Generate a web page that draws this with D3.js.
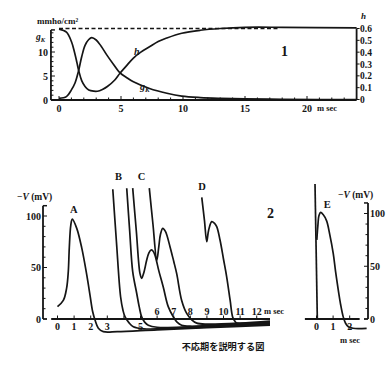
<!DOCTYPE html>
<html><head><meta charset="utf-8">
<script src="https://cdn.jsdelivr.net/npm/d3@7"></script>
<style>
body{margin:0;background:#fff}
svg{display:block}
text{font-family:"Liberation Serif","Times New Roman",serif;font-weight:bold;fill:#151515}
</style>
</head><body>
<svg id="c" width="392" height="365"></svg>
<script>
// ---------- Panel 1 data (g_K and h vs time, ms) ----------
const gTime  = [0, 0.6, 1.0, 1.3, 1.56, 1.83, 2.1, 2.4, 2.64, 3.0, 3.4, 3.85, 4.4, 4.9, 5.5, 6.0, 7.3, 8.7, 9.9, 11.4, 13, 15, 18, 21, 24];
const gValue = [0.35, 0.7, 2.1, 3.6, 5.9, 9.0, 11.4, 12.6, 13.0, 12.5, 11.2, 9.4, 7.4, 5.7, 4.6, 3.8, 2.4, 1.4, 0.8, 0.5, 0.35, 0.25, 0.15, 0.1, 0.1];
const hTime  = [0, 0.6, 1.0, 1.25, 1.45, 1.6, 1.83, 2.1, 2.4, 2.8, 3.1, 3.5, 3.9, 4.5, 4.9, 5.4, 6.0, 6.6, 7.3, 8.0, 8.7, 9.9, 11.4, 13, 15, 18, 24];
const hValue = [0.595, 0.57, 0.49, 0.40, 0.31, 0.24, 0.16, 0.11, 0.08, 0.07, 0.07, 0.085, 0.11, 0.165, 0.22, 0.28, 0.35, 0.40, 0.445, 0.49, 0.52, 0.56, 0.585, 0.6, 0.61, 0.61, 0.605];
const hRest = 0.6, hRestEnd = 17.8;
const topXTicks = [0, 5, 10, 15, 20];
const gTicks = [0, 5, 10];
const hTicks = [0, 0.1, 0.2, 0.3, 0.4, 0.5, 0.6];

// ---------- Panel 2 data (-V in mV vs time, ms) ----------
const aTime  = [0, 0.35, 0.55, 0.65, 0.71, 0.8, 0.89, 1.16, 1.46, 1.76, 1.96, 2.12, 2.26, 2.46, 2.76, 3.6, 6, 9, 12.8];
const aVolt  = [12, 18, 30, 46, 69, 91, 97, 88, 69, 43, 23, 7, -1, -9, -12.3, -12.3, -10.5, -8.5, -6];
const bTime  = [3.33, 3.55, 3.8, 3.95, 4.07, 4.3, 4.57, 5.2, 7, 10, 12.8];
const bVolt  = [126, 75, 21.6, 8, 2, -3.5, -7.5, -9.5, -9, -7, -5];
const b2Time = [4.17, 4.35, 4.53, 4.77, 4.92, 5.07, 5.25, 5.47, 6, 8, 10, 12.8];
const b2Volt = [127, 85, 46, 25, 12, 2, -3, -6, -8, -7.5, -6, -4.3];
const cTime  = [4.53, 4.75, 4.97, 5.07, 5.2, 5.37, 5.5, 5.63, 5.75, 5.87, 6.1, 6.37, 6.67, 6.98, 7.2, 7.48, 8, 10, 12.8];
const cVolt  = [127, 85, 44, 39.5, 45, 57, 64, 67, 66, 62, 47, 31, 12, 2, -3, -6, -7, -5.5, -3.3];
const c2Time = [5.53, 5.75, 5.98, 6.1, 6.2, 6.34, 6.5, 6.78, 7.0, 7.18, 7.48, 7.78, 8.1, 8.39, 9, 11, 12.8];
const c2Volt = [127, 92, 57, 70, 82, 88, 85, 70, 56, 44, 18, 5.5, -1, -4, -5, -4, -2];
const dTime  = [8.69, 8.85, 8.99, 9.1, 9.29, 9.45, 9.59, 9.79, 10.0, 10.19, 10.4, 10.55, 10.7, 10.8, 11.5, 12.8];
const dVolt  = [118, 96, 75, 86, 94.5, 93, 89.6, 76.7, 58, 41, 18, 2, -2.5, -4, -4.5, -3.5];
const xBelowTicks = [0, 1, 2, 3, 5];
const xAboveTicks = [6, 7, 8, 9, 10, 11, 12];
const vTicks = [0, 50, 100];

// ---------- Panel E data ----------
const eStimTime = [-0.09, 0.05];
const eStimVolt = [128, 0];
const eTime = [0.02, 0.08, 0.15, 0.25, 0.4, 0.61, 0.8, 1.01, 1.15, 1.31, 1.45, 1.61, 1.75, 1.92, 2.2, 3.02];
const eVolt = [75, 88, 98, 101, 99, 93, 80, 62, 45, 27.5, 14, 2, -4, -7.3, -8.8, -8.8];
const eXTicks = [0, 1, 2];

const traceLabels = [
  {text: "A", t: 0.98, v: 103},
  {text: "B", t: 3.67, v: 135},
  {text: "C", t: 5.07, v: 135},
  {text: "D", t: 8.7, v: 125}
];

// ---------- drawing ----------
const svg = d3.select("#c");
const ink = "#151515";
const zip = (xs, ys) => xs.map((x, i) => [x, ys[i]]);

// Panel 1 scales
const xT = d3.scaleLinear().domain([0, 24]).range([59, 356.6]);
const yG = d3.scaleLinear().domain([0, 10]).range([100, 52]);
const yH = d3.scaleLinear().domain([0, 0.6]).range([99.5, 28.5]);

const p1 = svg.append("g");
// x axis
p1.append("line").attr("x1", xT(-0.65)).attr("x2", xT(24)).attr("y1", yG(0)).attr("y2", yG(0))
  .attr("stroke", ink).attr("stroke-width", 1.8);
p1.selectAll(".xt").data(d3.range(0, 25)).join("line")
  .attr("x1", d => xT(d)).attr("x2", d => xT(d))
  .attr("y1", yG(0)).attr("y2", d => yG(0) - (d % 5 === 0 ? 4 : 2.5))
  .attr("stroke", ink).attr("stroke-width", 1);
p1.selectAll(".xl").data(topXTicks).join("text")
  .attr("x", d => xT(d)).attr("y", 112).attr("text-anchor", "middle")
  .attr("font-size", 10).text(d => d);
p1.append("text").attr("x", 317).attr("y", 111).attr("font-size", 8.5).text("m sec");

// left axis (g_K)
const lx = xT(-0.65);
p1.append("line").attr("x1", lx).attr("x2", lx).attr("y1", yG(0)).attr("y2", yG(14.6))
  .attr("stroke", ink).attr("stroke-width", 1.8);
p1.append("line").attr("x1", lx).attr("x2", lx + 4).attr("y1", yG(14.6)).attr("y2", yG(14.6))
  .attr("stroke", ink).attr("stroke-width", 1.5);
p1.selectAll(".gt").data(d3.range(0, 15)).join("line")
  .attr("x1", lx).attr("x2", d => lx + (d % 5 === 0 ? 4 : 2.5))
  .attr("y1", d => yG(d)).attr("y2", d => yG(d))
  .attr("stroke", ink).attr("stroke-width", 1);
p1.selectAll(".gl").data(gTicks).join("text")
  .attr("x", lx - 3).attr("y", d => yG(d) + 3.5).attr("text-anchor", "end")
  .attr("font-size", 10).text(d => d);
const gk1 = p1.append("text").attr("x", 36).attr("y", 40).attr("font-size", 9.5).attr("font-style", "italic");
gk1.append("tspan").text("g");
gk1.append("tspan").attr("dy", 1.5).attr("font-size", 6.5).text("K");
p1.append("text").attr("x", 37).attr("y", 24).attr("font-size", 9).text("mmho/cm²");

// right axis (h)
const rx = xT(24);
p1.append("line").attr("x1", rx).attr("x2", rx).attr("y1", yH(0)).attr("y2", yH(0.6))
  .attr("stroke", ink).attr("stroke-width", 1.8);
p1.selectAll(".ht").data(hTicks).join("line")
  .attr("x1", rx).attr("x2", rx + 3)
  .attr("y1", d => yH(d)).attr("y2", d => yH(d))
  .attr("stroke", ink).attr("stroke-width", 1);
p1.selectAll(".hl").data(hTicks).join("text")
  .attr("x", rx + 3.5).attr("y", d => yH(d) + 3.5)
  .attr("font-size", 9.5).text(d => d === 0 ? "0" : d3.format(".1f")(d));
p1.append("text").attr("x", 361).attr("y", 19).attr("font-size", 9).attr("font-style", "italic").text("h");

// dashed resting level
p1.append("line").attr("x1", xT(0)).attr("x2", xT(hRestEnd)).attr("y1", yH(hRest)).attr("y2", yH(hRest))
  .attr("stroke", ink).attr("stroke-width", 1.4).attr("stroke-dasharray", "4,2.5");

const curve = d3.curveCatmullRom.alpha(0.5);
p1.append("path").datum(zip(gTime, gValue))
  .attr("d", d3.line().x(d => xT(d[0])).y(d => yG(d[1])).curve(curve))
  .attr("fill", "none").attr("stroke", ink).attr("stroke-width", 1.7);
p1.append("path").datum(zip(hTime, hValue))
  .attr("d", d3.line().x(d => xT(d[0])).y(d => yH(d[1])).curve(curve))
  .attr("fill", "none").attr("stroke", ink).attr("stroke-width", 1.7);

p1.append("text").attr("x", 134).attr("y", 55).attr("font-size", 10).attr("font-style", "italic").text("h");
const gk2 = p1.append("text").attr("x", 140).attr("y", 90).attr("font-size", 10).attr("font-style", "italic");
gk2.append("tspan").text("g");
gk2.append("tspan").attr("dy", 2).attr("font-size", 7).text("K");
p1.append("text").attr("x", 281).attr("y", 56).attr("font-size", 14).text("1");

// Panel 2 scales
const xB = d3.scaleLinear().domain([0, 12.8]).range([57.5, 270]);
const yB = d3.scaleLinear().domain([0, 100]).range([319, 216]);
const p2 = svg.append("g");
p2.append("line").attr("x1", xB(-0.38)).attr("x2", xB(12.8)).attr("y1", yB(0)).attr("y2", yB(0))
  .attr("stroke", ink).attr("stroke-width", 1.8);
p2.selectAll(".bt").data(d3.range(0, 13)).join("line")
  .attr("x1", d => xB(d)).attr("x2", d => xB(d))
  .attr("y1", yB(0) + 1).attr("y2", yB(0) - 3.5)
  .attr("stroke", ink).attr("stroke-width", 1);
p2.selectAll(".bl").data(xBelowTicks).join("text")
  .attr("x", d => xB(d)).attr("y", 330).attr("text-anchor", "middle")
  .attr("font-size", 10).text(d => d);
p2.selectAll(".al").data(xAboveTicks).join("text")
  .attr("x", d => xB(d)).attr("y", 314.5).attr("text-anchor", "middle")
  .attr("font-size", 10).text(d => d);
p2.append("text").attr("x", 264).attr("y", 314).attr("font-size", 8.5).text("m sec");

// left V axis
const vx = 43;
p2.append("line").attr("x1", vx).attr("x2", vx).attr("y1", yB(0)).attr("y2", yB(110))
  .attr("stroke", ink).attr("stroke-width", 1.8);
p2.selectAll(".vb").data([0, 110]).join("line")
  .attr("x1", vx).attr("x2", vx + 4).attr("y1", d => yB(d)).attr("y2", d => yB(d))
  .attr("stroke", ink).attr("stroke-width", 1.5);
p2.selectAll(".vt").data(d3.range(0, 101, 10)).join("line")
  .attr("x1", vx).attr("x2", d => vx + (d % 50 === 0 ? 4 : 2.5))
  .attr("y1", d => yB(d)).attr("y2", d => yB(d))
  .attr("stroke", ink).attr("stroke-width", 1);
p2.selectAll(".vl").data(vTicks).join("text")
  .attr("x", vx - 2).attr("y", d => yB(d) + 3.5).attr("text-anchor", "end")
  .attr("font-size", 10).text(d => d);
const vl = p2.append("text").attr("x", 17).attr("y", 200).attr("font-size", 9.5);
vl.append("tspan").text("−");
vl.append("tspan").attr("font-style", "italic").text("V");
vl.append("tspan").text(" (mV)");

const lineB = d3.line().x(d => xB(d[0])).y(d => yB(d[1])).curve(curve);
[[aTime, aVolt], [bTime, bVolt], [b2Time, b2Volt], [cTime, cVolt], [c2Time, c2Volt], [dTime, dVolt]]
  .forEach(([t, v]) => {
    p2.append("path").datum(zip(t, v)).attr("d", lineB)
      .attr("fill", "none").attr("stroke", ink).attr("stroke-width", 1.7);
  });
p2.selectAll(".tl").data(traceLabels).join("text")
  .attr("x", d => xB(d.t)).attr("y", d => yB(d.v)).attr("text-anchor", "middle")
  .attr("font-size", 10.5).text(d => d.text);
p2.append("text").attr("x", 267).attr("y", 218).attr("font-size", 14).text("2");

// Panel E
const xE = d3.scaleLinear().domain([0, 2]).range([316.5, 349.7]);
const yE = d3.scaleLinear().domain([0, 100]).range([319, 213.5]);
const p3 = svg.append("g");
p3.append("line").attr("x1", xE(-0.7)).attr("x2", xE(2.6)).attr("y1", yE(0)).attr("y2", yE(0))
  .attr("stroke", ink).attr("stroke-width", 1.8);
p3.selectAll(".et").data(eXTicks).join("line")
  .attr("x1", d => xE(d)).attr("x2", d => xE(d)).attr("y1", yE(0) + 1).attr("y2", yE(0) - 3.5)
  .attr("stroke", ink).attr("stroke-width", 1);
p3.selectAll(".el").data(eXTicks).join("text")
  .attr("x", d => xE(d)).attr("y", 330).attr("text-anchor", "middle")
  .attr("font-size", 10).text(d => d);
p3.append("text").attr("x", 340).attr("y", 343).attr("font-size", 8.5).text("m sec");
const ex = 368;
p3.append("line").attr("x1", ex).attr("x2", ex).attr("y1", yE(0)).attr("y2", yE(110))
  .attr("stroke", ink).attr("stroke-width", 1.8);
p3.selectAll(".eb").data([0, 110]).join("line")
  .attr("x1", ex).attr("x2", ex - 4).attr("y1", d => yE(d)).attr("y2", d => yE(d))
  .attr("stroke", ink).attr("stroke-width", 1.5);
p3.selectAll(".evt").data(d3.range(0, 101, 10)).join("line")
  .attr("x1", ex).attr("x2", d => ex - (d % 50 === 0 ? 4 : 2.5))
  .attr("y1", d => yE(d)).attr("y2", d => yE(d))
  .attr("stroke", ink).attr("stroke-width", 1);
p3.selectAll(".evl").data(vTicks).join("text")
  .attr("x", ex + 2).attr("y", d => yE(d) + 3.5)
  .attr("font-size", 10).text(d => d);
const vl2 = p3.append("text").attr("x", 338).attr("y", 198).attr("font-size", 9.5);
vl2.append("tspan").text("−");
vl2.append("tspan").attr("font-style", "italic").text("V");
vl2.append("tspan").text(" (mV)");
const lineE = d3.line().x(d => xE(d[0])).y(d => yE(d[1])).curve(curve);
p3.append("path").datum(zip(eStimTime, eStimVolt)).attr("d", lineE)
  .attr("fill", "none").attr("stroke", ink).attr("stroke-width", 1.7);
p3.append("path").datum(zip(eTime, eVolt)).attr("d", lineE)
  .attr("fill", "none").attr("stroke", ink).attr("stroke-width", 1.7);
p3.append("text").attr("x", xE(0.65)).attr("y", yE(105)).attr("text-anchor", "middle")
  .attr("font-size", 10.5).text("E");

// caption
svg.append("text").attr("x", 223).attr("y", 350).attr("text-anchor", "middle")
  .attr("font-size", 9.2).style("font-family", "'Noto Sans CJK JP', sans-serif").style("font-weight", "bold")
  .text("不応期を説明する図");
</script>
</body></html>
